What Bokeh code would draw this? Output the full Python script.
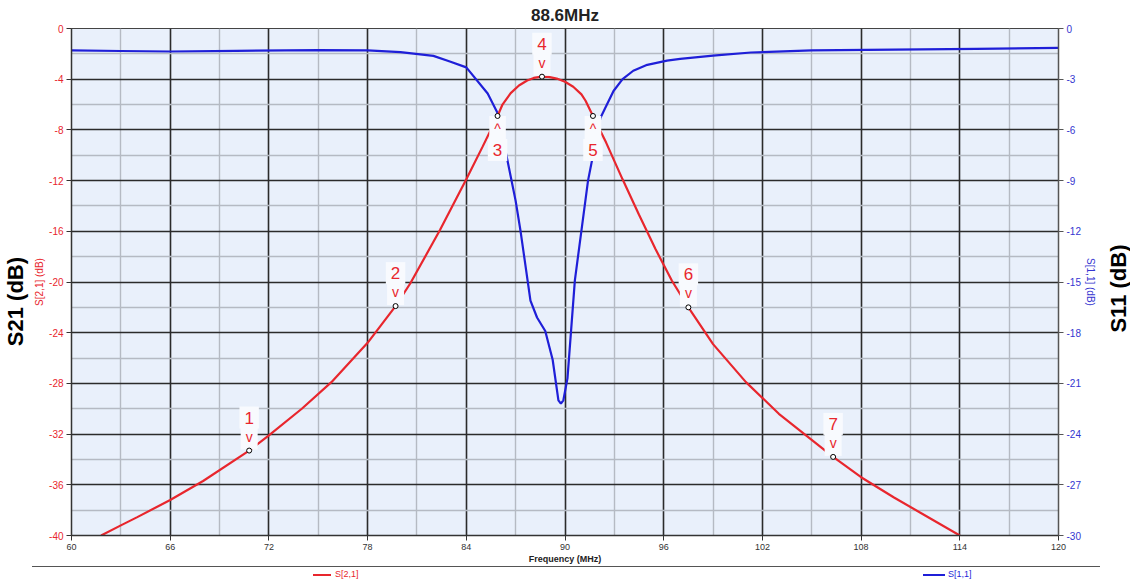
import math
from bokeh.plotting import figure
from bokeh.layouts import column
from bokeh.models import LinearAxis, Range1d, FixedTicker, ColumnDataSource, Div, Label
from bokeh.core.properties import value
from bokeh.embed import file_html
from bokeh.resources import INLINE

# ---------------- data ----------------
title_text = "88.6MHz"
freq_ticks = [60, 66, 72, 78, 84, 90, 96, 102, 108, 114, 120]
freq_minor = [63, 69, 75, 81, 87, 93, 99, 105, 111, 117]
s21_ticks = [-40, -36, -32, -28, -24, -20, -16, -12, -8, -4, 0]
s21_minor = [-38, -34, -30, -26, -22, -18, -14, -10, -6, -2]
s11_ticks = [-30, -27, -24, -21, -18, -15, -12, -9, -6, -3, 0]

freq_s21 = [61.8, 63, 64, 66, 68, 70.8, 72, 74, 75.8, 78, 79.7, 80.6, 82.4, 84, 85,
            85.9, 86.2, 86.7, 87.2, 87.7, 88.1, 88.6, 89.0, 89.5, 90.0, 90.5, 91.0,
            91.25, 91.7, 92.5, 93.5, 94.5, 95.5, 96.5, 97.5, 99, 101, 103, 106.3,
            108, 110, 112, 114]
s21_db = [-40, -39.2, -38.55, -37.2, -35.7, -33.3, -32.1, -30.0, -27.9, -24.8, -21.9,
          -20.1, -15.9, -11.9, -9.3, -6.9, -6.0, -5.1, -4.5, -4.1, -3.9, -3.8, -3.82,
          -3.95, -4.2, -4.6, -5.2, -5.7, -6.9, -9.0, -11.9, -14.7, -17.4, -19.9,
          -22.0, -24.9, -27.9, -30.4, -33.8, -35.4, -37.0, -38.5, -40]

freq_s11 = [60, 63, 66, 70, 75, 78, 80, 82, 83, 84, 85.3, 85.9, 86.5, 87, 87.3, 87.9,
            88.3, 88.8, 89.25, 89.6, 89.75, 89.9, 90.15, 90.6, 91.4, 92.15, 92.95,
            93.5, 94.15, 95, 96.2, 97, 99, 101.3, 105, 110, 115, 120]
s11_db = [-1.3, -1.33, -1.36, -1.32, -1.28, -1.3, -1.4, -1.62, -1.95, -2.3, -3.85,
          -5.0, -7.8, -10.2, -12.0, -16.1, -17.1, -17.9, -19.6, -22.0, -22.2, -22.0,
          -20.7, -14.9, -9.0, -5.3, -3.7, -3.0, -2.5, -2.15, -1.9, -1.8, -1.6,
          -1.42, -1.3, -1.25, -1.2, -1.15]

marker_ids = ["1", "2", "3", "4", "5", "6", "7"]
marker_freq = [70.8, 79.7, 85.9, 88.6, 91.7, 97.5, 106.3]
marker_db = [-33.3, -21.9, -6.9, -3.8, -6.9, -22.0, -33.8]
marker_above = [True, True, False, True, False, True, True]

legend_labels = ["S[2,1]", "S[1,1]"]

RED = "#e8262d"
BLUE = "#1f1fd8"
BLUE_TXT = "#3535d0"
FONT = "Liberation Sans"

p = figure(width=1130, height=566, x_range=Range1d(60, 120), y_range=Range1d(-40, 0),
           output_backend="svg", toolbar_location=None,
           min_border_left=71, min_border_right=72, min_border_top=28, min_border_bottom=31,
           background_fill_color="#e9f0fb", border_fill_color="white",
           outline_line_color="#444444")
p.extra_y_ranges = {"s11": Range1d(-30, 0)}

p.title.text = title_text
p.title.align = "center"
p.title.text_font = FONT
p.title.text_font_size = "17px"
p.title.text_font_style = "bold"
p.title.text_color = "#222222"
p.title.standoff = 7

# axes
xt = FixedTicker(ticks=freq_ticks, minor_ticks=freq_minor)
p.xaxis.ticker = xt
p.xgrid.ticker = xt
p.xaxis.major_label_overrides = {t: str(t) for t in freq_ticks}
yt = FixedTicker(ticks=s21_ticks, minor_ticks=s21_minor)
p.yaxis.ticker = yt
p.ygrid.ticker = yt
p.yaxis.major_label_overrides = {t: str(t) for t in s21_ticks}

for ax in (p.xaxis[0], p.yaxis[0]):
    ax.axis_line_color = "#333333"
    ax.axis_line_width = 1.5
    ax.major_tick_line_color = "#333333"
    ax.major_tick_in = 0
    ax.major_tick_out = 5
    ax.minor_tick_line_color = None
    ax.major_label_text_font = FONT
    ax.major_label_text_font_size = "10px"
    ax.major_label_standoff = 3
    ax.axis_label_text_font = FONT
    ax.axis_label_text_font_style = "normal"
p.xaxis.major_label_text_color = "#333333"
p.xaxis.major_label_text_font_size = "9px"
p.xaxis.axis_label = "Frequency (MHz)"
p.xaxis.axis_label_text_font_size = "9px"
p.xaxis.axis_label_text_font_style = "bold"
p.xaxis.axis_label_text_color = "#222222"
p.xaxis.axis_label_standoff = 1
p.yaxis.major_label_text_color = RED
p.yaxis.axis_label = "S[2,1] (dB)"
p.yaxis.axis_label_text_font_size = "10px"
p.yaxis.axis_label_text_color = RED
p.yaxis.axis_label_standoff = 1

right = LinearAxis(y_range_name="s11", ticker=FixedTicker(ticks=s11_ticks),
                   major_label_overrides={t: str(t) for t in s11_ticks})
right.axis_line_color = "#555555"
right.axis_line_width = 1.5
right.major_tick_line_color = "#555555"
right.major_tick_in = 0
right.major_tick_out = 5
right.minor_tick_line_color = None
right.major_label_text_font = FONT
right.major_label_text_font_size = "10px"
right.major_label_text_color = BLUE_TXT
right.major_label_standoff = 3
right.axis_label = "S[1,1] (dB)"
right.axis_label_text_font = FONT
right.axis_label_text_font_size = "10px"
right.axis_label_text_font_style = "normal"
right.axis_label_text_color = BLUE_TXT
right.axis_label_standoff = 1
p.add_layout(right, "right")

# big side titles, reading bottom to top, placed in the side panels
p.add_layout(Label(x=15, y=298, x_units="canvas", y_units="canvas", text="S21  (dB)",
                   angle=math.pi / 2, text_align="center", text_baseline="middle",
                   text_font=FONT, text_font_size="22px", text_font_style="bold",
                   text_color="black"), "left")
p.add_layout(Label(x=1118, y=285, x_units="canvas", y_units="canvas", text="S11  (dB)",
                   angle=math.pi / 2, text_align="center", text_baseline="middle",
                   text_font=FONT, text_font_size="22px", text_font_style="bold",
                   text_color="black"), "right")

for g in (p.xgrid[0], p.ygrid[0]):
    g.grid_line_color = "#2b2b2b"
    g.grid_line_width = 1.6
    g.minor_grid_line_color = "#b5bac3"
    g.minor_grid_line_width = 1.4

# curves
p.line(freq_s11, s11_db, color=BLUE, line_width=2.2, y_range_name="s11")
p.line(freq_s21, s21_db, color=RED, line_width=2.2)

# marker labels
src = ColumnDataSource(dict(
    x=marker_freq, y=marker_db, num=marker_ids,
    caret=["v" if a else "^" for a in marker_above],
    num_off=[-33 if a else 34 for a in marker_above],
    caret_off=[-14 if a else 13 for a in marker_above],
))
p.text(x="x", y="y", text="caret", source=src, y_offset="caret_off",
       text_font=value(FONT), text_font_size="14px", text_color=RED,
       text_align="center", text_baseline="middle",
       background_fill_color="#f8fafe", background_fill_alpha=1.0, padding=5)
p.text(x="x", y="y", text="num", source=src, y_offset="num_off",
       text_font=value(FONT), text_font_size="17px", text_color=RED,
       text_align="center", text_baseline="middle",
       background_fill_color="#f8fafe", background_fill_alpha=1.0, padding=5)
p.scatter(marker_freq, marker_db, size=5, fill_color="white", line_color="black", line_width=1)

# ---------------- bottom strip: rule + legend ----------------
strip_html = (
    '<div style="position:relative;width:1130px;height:14px;'
    'font-family:\'Liberation Sans\';font-size:9px;line-height:9px;">'
    '<div style="position:absolute;left:32px;top:0px;width:1068px;height:0;'
    'border-top:1px solid #555555;"></div>'
    '<div style="position:absolute;left:313px;top:8px;width:18px;height:0;'
    f'border-top:2px solid {RED};"></div>'
    f'<span style="position:absolute;left:335px;top:4px;color:{RED};">{legend_labels[0]}</span>'
    '<div style="position:absolute;left:923px;top:8px;width:22px;height:0;'
    f'border-top:2px solid {BLUE};"></div>'
    f'<span style="position:absolute;left:948px;top:4px;color:{BLUE};">{legend_labels[1]}</span>'
    '</div>'
)
strip = Div(text=strip_html, width=1130, height=14, margin=(0, 0, 0, 0))

layout = column(p, strip, spacing=0)
open("out.html", "w").write(file_html(layout, INLINE))
